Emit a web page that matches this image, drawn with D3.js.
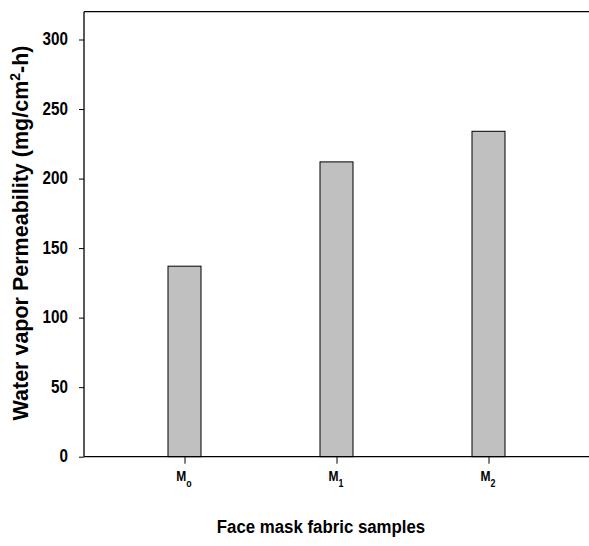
<!DOCTYPE html>
<html><head><meta charset="utf-8">
<script src="https://cdn.jsdelivr.net/npm/d3@7"></script>
<style>
html,body{margin:0;padding:0;background:#fff;}
svg{display:block;}
.narrow{font-family:"Liberation Sans",Arial,sans-serif;font-weight:bold;}
.wide{font-family:"Liberation Sans",Arial,sans-serif;font-weight:bold;}
</style>
</head><body>
<svg id="c" width="589" height="546"></svg>
<script>
const categories = ["M", "M", "M"];
const subscripts = ["o", "1", "2"];
const values = [137, 212, 234];
const yTicks = [0, 50, 100, 150, 200, 250, 300];
const yMax = 320;
const xTitle = "Face mask fabric samples";
const yTitleMain = "Water vapor Permeability (mg/cm";
const yTitleSup = "2";
const yTitleEnd = "-h)";

(function(){
const svg = d3.select("#c");
const mL = 84, mR = 589, mT = 11.7, mB = 456.7;
const sx = 0.87; // horizontal condensing to mimic a narrow face

const y = d3.scaleLinear().domain([0, yMax]).range([mB, mT]);
const x = d3.scalePoint().domain(d3.range(values.length)).range([184.5, 488.5]);
const barW = 33;

// bars
svg.append("g").selectAll("rect").data(values).join("rect")
  .attr("x", (d,i) => x(i) - barW/2)
  .attr("y", d => y(d))
  .attr("width", barW)
  .attr("height", d => y(0) - y(d))
  .attr("fill", "#c0c0c0")
  .attr("stroke", "#000")
  .attr("stroke-width", 1);

// frame lines
const frame = svg.append("g").attr("stroke", "#000").attr("stroke-width", 1.3);
frame.append("line").attr("x1", mL).attr("x2", mR).attr("y1", mT).attr("y2", mT);
frame.append("line").attr("x1", mL).attr("x2", mR).attr("y1", mB).attr("y2", mB);
frame.append("line").attr("x1", mL).attr("x2", mL).attr("y1", mT).attr("y2", mB);

// y axis
const yAxis = svg.append("g").attr("transform", `translate(${mL},0)`)
  .call(d3.axisLeft(y).tickValues(yTicks).tickSize(5).tickPadding(11).tickSizeOuter(0));
yAxis.select(".domain").remove();
yAxis.selectAll("line").attr("stroke", "#000").attr("stroke-width", 1);
yAxis.selectAll("text").attr("class", "narrow").attr("font-size", 17.5).attr("fill", "#000")
  .attr("dy", "0.3em").attr("x", -16 / sx).attr("transform", `scale(${sx},1)`);

// x axis
const xAxis = svg.append("g").attr("transform", `translate(0,${mB})`)
  .call(d3.axisBottom(x).tickSize(7).tickFormat(() => "").tickSizeOuter(0));
xAxis.select(".domain").remove();
xAxis.selectAll("line").attr("stroke", "#000").attr("stroke-width", 1);

const xl = svg.append("g").selectAll("text").data(categories).join("text")
  .attr("class", "narrow")
  .attr("transform", (d,i) => `translate(${x(i) - 0.5},481) scale(0.8,1)`)
  .attr("text-anchor", "middle")
  .attr("font-size", 15)
  .attr("fill", "#000");
xl.append("tspan").text(d => d);
xl.append("tspan").text((d,i) => subscripts[i]).attr("font-size", 11).attr("dy", 6);

// x title
svg.append("text").attr("class", "narrow")
  .attr("transform", "translate(321,533) scale(0.885,1)").attr("text-anchor", "middle")
  .attr("font-size", 19).attr("fill", "#000").text(xTitle);

// y title
const yt = svg.append("text").attr("class", "wide")
  .attr("transform", "translate(27.5,233) rotate(-90)")
  .attr("text-anchor", "middle").attr("font-size", 21.5).attr("fill", "#000");
yt.append("tspan").text(yTitleMain);
yt.append("tspan").text(yTitleSup).attr("font-size", 14).attr("dy", -8);
yt.append("tspan").text(yTitleEnd).attr("dy", 8);
})();
</script>
</body></html>
